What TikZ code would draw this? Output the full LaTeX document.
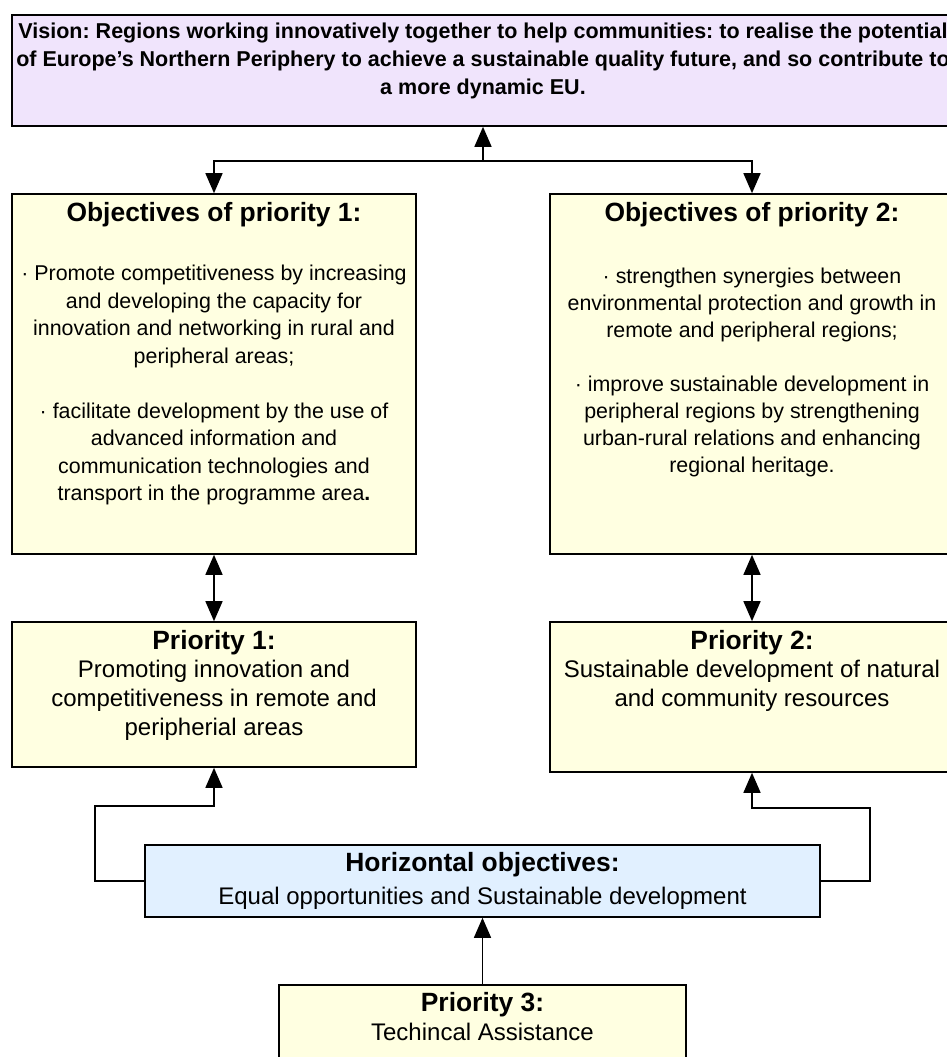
\documentclass[tikz,border=0pt]{standalone}
\usepackage{fontspec}
\setmainfont{Liberation Sans}
\usetikzlibrary{arrows.meta}
\frenchspacing

\definecolor{visionfill}{RGB}{240,228,252}
\definecolor{prioFill}{RGB}{255,255,225}
\definecolor{horizFill}{RGB}{225,240,255}

\begin{document}
\begin{tikzpicture}[x=1pt, y=-1pt,
    box/.style={draw, line width=1.6pt, inner sep=0pt, fill=prioFill},
    arr/.style={line width=1.5pt, -{Triangle[length=20pt, width=17pt]}},
    dblarr/.style={line width=1.5pt, {Triangle[length=20pt, width=17pt]}-{Triangle[length=20pt, width=17pt]}},
    head/.style={anchor=base, inner sep=0pt, font=\fontsize{26.4}{30}\selectfont\bfseries},
    objtext/.style={anchor=base, inner sep=0pt, align=center, font=\fontsize{21.4}{27.4}\selectfont},
    priotext/.style={anchor=base, inner sep=0pt, align=center, font=\fontsize{24}{29}\selectfont}]

  \useasboundingbox (0,0) rectangle (947,1057);

  % Vision (base = baseline of the last line)
  \node[box, fill=visionfill, minimum width=942pt, minimum height=111pt] (vision) at (483,70.5) {};
  \node[anchor=base, inner sep=0pt, align=center, font=\fontsize{21.5}{28}\selectfont\bfseries] (visiontext) at (483,94.3)
    {Vision: Regions working innovatively together to help communities: to realise the potential\\
     of Europe’s Northern Periphery to achieve a sustainable quality future, and so contribute to\\
     a more dynamic EU.};

  % Objectives
  \node[box, minimum width=404pt, minimum height=360pt] (obj1) at (214,374) {};
  \node[head] (obj1head) at (214,221) {Objectives of priority 1:};
  \node[objtext, font=\fontsize{21.4}{27.5}\selectfont] (obj1text) at (214,500.5)
    {· Promote competitiveness by increasing\\
     and developing the capacity for\\
     innovation and networking in rural and\\
     peripheral areas;\\[27.5pt]
     · facilitate development by the use of\\
     advanced information and\\
     communication technologies and\\
     transport in the programme area\textbf{.}};

  \node[box, minimum width=404pt, minimum height=360pt] (obj2) at (752,374) {};
  \node[head] (obj2head) at (752,221) {Objectives of priority 2:};
  \node[objtext, font=\fontsize{21.4}{27}\selectfont] (obj2text) at (752,472.4)
    {· strengthen synergies between\\
     environmental protection and growth in\\
     remote and peripheral regions;\\[27pt]
     · improve sustainable development in\\
     peripheral regions by strengthening\\
     urban-rural relations and enhancing\\
     regional heritage.};

  % Priorities
  \node[box, minimum width=404pt, minimum height=145pt] (prio1) at (214,694.5) {};
  \node[head] (prio1head) at (214,649) {Priority 1:};
  \node[priotext] (prio1text) at (214,735.2)
    {Promoting innovation and\\
     competitiveness in remote and\\
     peripherial areas};

  \node[box, minimum width=404pt, minimum height=150pt] (prio2) at (752,697) {};
  \node[head] (prio2head) at (752,649) {Priority 2:};
  \node[priotext] (prio2text) at (752,706.2)
    {Sustainable development of natural\\
     and community resources};

  \node[box, fill=horizFill, minimum width=675pt, minimum height=72pt] (horiz) at (482.5,881) {};
  \node[head] (horizhead) at (482.5,871) {Horizontal objectives:};
  \node[priotext] (horiztext) at (482.5,904.5) {Equal opportunities and Sustainable development};

  \node[box, minimum width=407pt, minimum height=95pt] (prio3) at (482.5,1032.5) {};
  \node[head] (prio3head) at (482.5,1011) {Priority 3:};
  \node[priotext] (prio3text) at (482.5,1040.5) {Techincal Assistance};

  % Connectors
  \coordinate (split) at (483,161);
  \coordinate (lbend) at (95,806);
  \coordinate (rbend) at (870,808);

  \draw[arr] (split) -- (vision);
  \draw[arr] (split) -| (obj1.north);
  \draw[arr] (split) -| (obj2.north);

  \draw[dblarr] (obj1) -- (prio1);
  \draw[dblarr] (obj2) -- (prio2);

  \draw[arr] (horiz.west) -| (lbend) -| (prio1.south);
  \draw[arr] (horiz.east) -| (rbend) -| (prio2.south);
  \draw[arr] (prio3) -- (horiz);

\end{tikzpicture}
\end{document}
